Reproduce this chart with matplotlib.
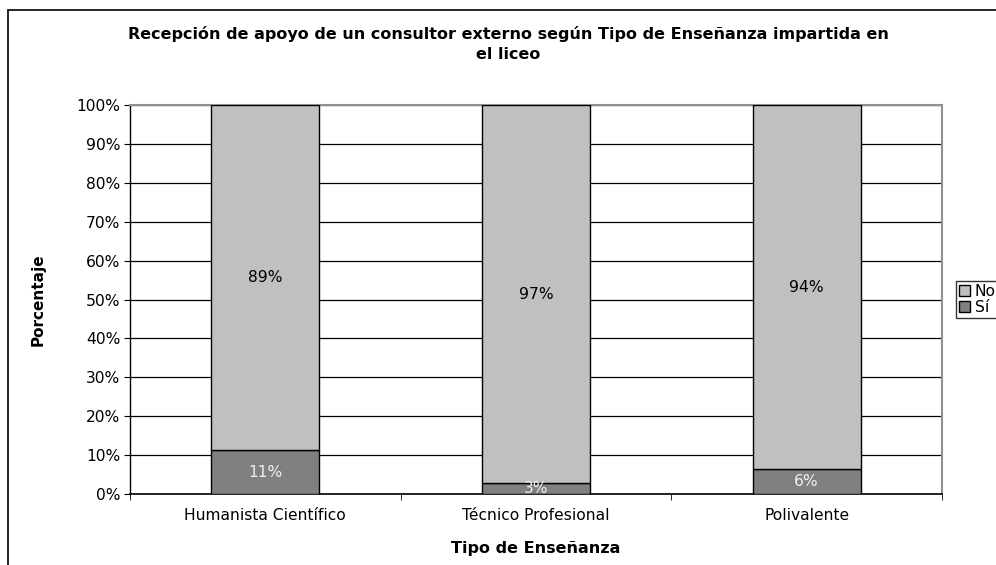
import numpy as np
import matplotlib.pyplot as plt
import matplotlib.patches as mpatches

categorias = ['Humanista Científico', 'Técnico Profesional', 'Polivalente']
si_vals = [11.3, 2.8, 6.3]
no_vals = [88.7, 97.2, 93.7]
yticks = np.arange(0, 101, 10)

col_no = '#C0C0C0'
col_si = '#808080'
fs = 11.2
fsb = 11.5

W, H = 996, 565
fig = plt.figure(figsize=(W / 100, H / 100), dpi=100)
plt.rcParams['font.family'] = ['DejaVu Sans']

# marco exterior del gráfico
fig.patches.append(mpatches.Rectangle((8 / W, -0.05), 1.1, 1.05 - 10 / H,
                                      transform=fig.transFigure, fill=False,
                                      edgecolor='black', linewidth=1.2))

ax = fig.add_axes([130 / W, 1 - 494 / H, (942 - 130) / W, (494 - 105) / H])
x = np.arange(len(categorias))
ax.bar(x, si_vals, width=0.4, color=col_si, edgecolor='black', linewidth=1, label='Sí', zorder=3)
ax.bar(x, no_vals, width=0.4, bottom=si_vals, color=col_no, edgecolor='black', linewidth=1, label='No', zorder=3)

for i in range(len(categorias)):
    ax.text(x[i], si_vals[i] / 2, f'{round(si_vals[i])}%', ha='center', va='center',
            color='#F0F0F0', fontsize=fs, zorder=4)
    ax.text(x[i], si_vals[i] + no_vals[i] / 2, f'{round(no_vals[i])}%', ha='center', va='center',
            color='black', fontsize=fs, zorder=4)

ax.set_xlim(-0.5, len(categorias) - 0.5)
ax.set_ylim(0, 100)
ax.set_yticks(yticks)
ax.set_yticklabels([f'{v}%' for v in yticks], fontsize=fs)
ax.set_xticks(x)
ax.set_xticklabels(categorias, fontsize=fs)
ax.tick_params(axis='x', length=0, pad=10)
ax.set_xticks(np.arange(len(categorias) + 1) - 0.5, minor=True)
ax.tick_params(axis='x', which='minor', length=4, direction='out')
ax.tick_params(axis='y', length=4, direction='out', pad=3)
ax.yaxis.grid(True, color='black', linewidth=0.9, zorder=0)
ax.set_axisbelow(True)

for s in ['top', 'right']:
    ax.spines[s].set_color('#909090')
    ax.spines[s].set_linewidth(1.5)
ax.spines['left'].set_linewidth(1)
ax.spines['bottom'].set_linewidth(1.2)

fig.text(38 / W, 1 - 300 / H, 'Porcentaje', rotation=90, ha='center', va='center',
         fontsize=11, fontweight='bold')
fig.text(536 / W, 1 - 548 / H, 'Tipo de Enseñanza', ha='center', va='center',
         fontsize=fsb, fontweight='bold')

fig.text(508 / W, 1 - 44 / H,
         'Recepción de apoyo de un consultor externo según Tipo de Enseñanza impartida en\nel liceo',
         ha='center', va='center', fontsize=fsb, fontweight='bold', linespacing=1.35)

handles = [mpatches.Patch(facecolor=col_no, edgecolor='black', label='No'),
           mpatches.Patch(facecolor=col_si, edgecolor='black', label='Sí')]
leg = fig.legend(handles=handles, loc='upper left', bbox_to_anchor=(956 / W, 1 - 281 / H),
                 fontsize=fs, frameon=True, fancybox=False, edgecolor='black',
                 handlelength=0.7, handleheight=0.7, handletextpad=0.3, borderpad=0.2,
                 labelspacing=0.05, borderaxespad=0)
leg.get_frame().set_linewidth(1)

fig.savefig('out.png', dpi=100)
